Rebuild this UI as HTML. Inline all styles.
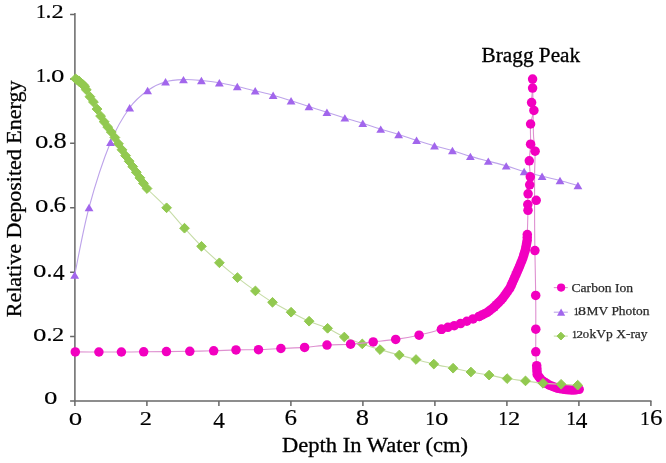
<!DOCTYPE html>
<html><head><meta charset="utf-8"><style>
html,body{margin:0;padding:0;background:#fff;}
svg{display:block;will-change:transform;}
</style></head><body>
<svg width="666" height="463" viewBox="0 0 666 463">
<rect width="666" height="463" fill="#fff"/>
<path d="M74.90,13.0 V401.0 H651.50" fill="none" stroke="#686868" stroke-width="1.5"/>
<path d="M70.10,401.00 H74.9 M70.10,336.58 H74.9 M70.10,272.16 H74.9 M70.10,207.74 H74.9 M70.10,143.32 H74.9 M70.10,78.90 H74.9 M70.10,14.48 H74.9 M74.90,401.0 V406.0 M146.90,401.0 V406.0 M218.90,401.0 V406.0 M290.90,401.0 V406.0 M362.90,401.0 V406.0 M434.90,401.0 V406.0 M506.90,401.0 V406.0 M578.90,401.0 V406.0 M650.90,401.0 V406.0" fill="none" stroke="#686868" stroke-width="1.5"/>
<path d="M532.60,79.10 C532.70,85.92 533.03,110.35 533.20,120.00 C533.37,129.65 533.28,131.80 533.60,137.00 C533.92,142.20 534.93,144.87 535.10,151.20 C535.27,157.53 534.68,163.53 534.60,175.00 C534.52,186.47 534.55,207.40 534.60,220.00 C534.65,232.60 534.72,238.03 534.90,250.60 C535.08,263.17 535.55,282.30 535.70,295.40 C535.85,308.50 535.78,319.80 535.80,329.20 C535.82,338.60 535.65,345.72 535.80,351.80 C535.95,357.88 536.47,361.92 536.70,365.70 C536.93,369.48 536.38,372.05 537.20,374.50 C538.02,376.95 539.57,378.62 541.60,380.40 C543.63,382.18 546.80,383.90 549.40,385.20 C552.00,386.50 554.43,387.47 557.20,388.20 C559.97,388.93 563.23,389.28 566.00,389.60 C568.77,389.92 571.60,390.15 573.80,390.10 C576.00,390.05 578.30,389.43 579.20,389.30" fill="none" stroke="#de90d0" stroke-width="1.1"/>
<g><circle cx="536.70" cy="365.70" r="4.75" fill="#f200c0"/><circle cx="536.87" cy="368.63" r="4.75" fill="#f200c0"/><circle cx="537.03" cy="371.57" r="4.75" fill="#f200c0"/><circle cx="537.20" cy="374.50" r="4.75" fill="#f200c0"/><circle cx="538.67" cy="376.47" r="4.75" fill="#f200c0"/><circle cx="540.13" cy="378.43" r="4.75" fill="#f200c0"/><circle cx="541.60" cy="380.40" r="4.75" fill="#f200c0"/><circle cx="543.55" cy="381.60" r="4.75" fill="#f200c0"/><circle cx="545.50" cy="382.80" r="4.75" fill="#f200c0"/><circle cx="547.45" cy="384.00" r="4.75" fill="#f200c0"/><circle cx="549.40" cy="385.20" r="4.75" fill="#f200c0"/><circle cx="552.00" cy="386.20" r="4.75" fill="#f200c0"/><circle cx="554.60" cy="387.20" r="4.75" fill="#f200c0"/><circle cx="557.20" cy="388.20" r="4.75" fill="#f200c0"/><circle cx="560.13" cy="388.67" r="4.75" fill="#f200c0"/><circle cx="563.07" cy="389.13" r="4.75" fill="#f200c0"/><circle cx="566.00" cy="389.60" r="4.75" fill="#f200c0"/><circle cx="568.60" cy="389.77" r="4.75" fill="#f200c0"/><circle cx="571.20" cy="389.93" r="4.75" fill="#f200c0"/><circle cx="573.80" cy="390.10" r="4.75" fill="#f200c0"/><circle cx="576.50" cy="389.70" r="4.75" fill="#f200c0"/><circle cx="579.20" cy="389.30" r="4.75" fill="#f200c0"/></g>
<path d="M74.70,275.00 C77.09,263.75 83.08,229.62 89.05,207.50 C95.02,185.38 103.73,158.93 110.50,142.30 C117.27,125.67 123.50,116.33 129.69,107.70 C135.88,99.07 141.64,94.82 147.62,90.50 C153.60,86.18 159.57,83.62 165.55,81.80 C171.53,79.98 177.50,79.82 183.48,79.60 C189.46,79.38 195.43,79.98 201.41,80.50 C207.39,81.02 213.36,81.70 219.34,82.70 C225.32,83.70 231.29,85.15 237.27,86.50 C243.25,87.85 249.22,89.35 255.20,90.80 C261.18,92.25 267.15,93.53 273.13,95.20 C279.11,96.87 285.08,98.92 291.06,100.80 C297.04,102.68 303.01,104.58 308.99,106.50 C314.97,108.42 320.94,110.40 326.92,112.30 C332.90,114.20 338.87,116.07 344.85,117.90 C350.83,119.73 356.80,121.43 362.78,123.30 C368.76,125.17 374.73,127.23 380.71,129.10 C386.69,130.97 392.66,132.63 398.64,134.50 C404.62,136.37 410.59,138.42 416.57,140.30 C422.55,142.18 428.52,144.10 434.50,145.80 C440.48,147.50 446.45,148.73 452.43,150.50 C458.41,152.27 464.38,154.63 470.36,156.40 C476.34,158.17 482.31,159.52 488.29,161.10 C494.27,162.68 500.24,164.17 506.22,165.90 C512.20,167.63 518.17,169.77 524.15,171.50 C530.13,173.23 536.10,174.80 542.08,176.30 C548.06,177.80 554.03,178.97 560.01,180.50 C565.99,182.03 574.95,184.67 577.94,185.50" fill="none" stroke="#bda3ea" stroke-width="1.1"/>
<path d="M75.60,78.80 C76.33,79.33 78.50,80.77 80.00,82.00 C81.50,83.23 83.08,83.95 84.60,86.20 C86.12,88.45 87.60,92.83 89.10,95.50 C90.60,98.17 92.30,99.98 93.60,102.20 C94.90,104.42 95.80,106.60 96.90,108.80 C98.00,111.00 98.68,112.75 100.20,115.40 C101.72,118.05 103.82,121.47 106.00,124.70 C108.18,127.93 111.03,131.28 113.30,134.80 C115.57,138.32 117.35,141.98 119.60,145.80 C121.85,149.62 124.38,153.88 126.80,157.70 C129.22,161.52 131.63,164.88 134.10,168.70 C136.57,172.52 139.45,177.30 141.60,180.60 C143.75,183.90 142.83,183.97 147.00,188.50 C151.17,193.03 160.35,201.18 166.60,207.80 C172.85,214.42 178.68,221.78 184.50,228.20 C190.32,234.62 195.68,240.53 201.50,246.30 C207.32,252.07 213.42,257.58 219.40,262.80 C225.38,268.02 231.40,272.92 237.40,277.60 C243.40,282.28 249.55,286.78 255.40,290.90 C261.25,295.02 266.55,298.75 272.50,302.30 C278.45,305.85 285.00,309.05 291.10,312.20 C297.20,315.35 303.02,318.52 309.10,321.20 C315.18,323.88 321.73,325.67 327.60,328.30 C333.47,330.93 338.52,334.40 344.30,337.00 C350.08,339.60 356.35,341.80 362.30,343.90 C368.25,346.00 373.83,347.75 380.00,349.60 C386.17,351.45 393.30,353.35 399.30,355.00 C405.30,356.65 410.25,357.98 416.00,359.50 C421.75,361.02 427.62,362.65 433.80,364.10 C439.98,365.55 446.92,366.88 453.10,368.20 C459.28,369.52 464.90,370.85 470.90,372.00 C476.90,373.15 483.07,374.00 489.10,375.10 C495.13,376.20 501.03,377.63 507.10,378.60 C513.17,379.57 519.52,380.12 525.50,380.90 C531.48,381.68 537.07,382.73 543.00,383.30 C548.93,383.87 555.32,383.98 561.10,384.30 C566.88,384.62 574.93,385.05 577.70,385.20" fill="none" stroke="#c6dca6" stroke-width="1.1"/>
<g fill="#92c950" stroke="#92c950" stroke-width="1" stroke-linejoin="round"><path d="M75.60,73.90 L80.50,78.80 L75.60,83.70 L70.70,78.80Z"/><path d="M77.40,75.21 L82.30,80.11 L77.40,85.01 L72.50,80.11Z"/><path d="M79.17,76.50 L84.07,81.40 L79.17,86.30 L74.27,81.40Z"/><path d="M79.20,76.52 L84.10,81.42 L79.20,86.32 L74.30,81.42Z"/><path d="M81.00,78.01 L85.90,82.91 L81.00,87.81 L76.10,82.91Z"/><path d="M82.74,79.60 L87.64,84.50 L82.74,89.40 L77.84,84.50Z"/><path d="M82.80,79.66 L87.70,84.56 L82.80,89.46 L77.90,84.56Z"/><path d="M84.60,81.30 L89.50,86.20 L84.60,91.10 L79.70,86.20Z"/><path d="M86.31,84.83 L91.21,89.73 L86.31,94.63 L81.41,89.73Z"/><path d="M89.88,91.76 L94.78,96.66 L89.88,101.56 L84.98,96.66Z"/><path d="M93.45,97.08 L98.35,101.98 L93.45,106.88 L88.55,101.98Z"/><path d="M97.02,104.14 L101.92,109.04 L97.02,113.94 L92.12,109.04Z"/><path d="M100.59,111.13 L105.49,116.03 L100.59,120.93 L95.69,116.03Z"/><path d="M104.16,116.85 L109.06,121.75 L104.16,126.65 L99.26,121.75Z"/><path d="M107.73,122.19 L112.63,127.09 L107.73,131.99 L102.83,127.09Z"/><path d="M111.30,127.13 L116.20,132.03 L111.30,136.93 L106.40,132.03Z"/><path d="M114.87,132.64 L119.77,137.54 L114.87,142.44 L109.97,137.54Z"/><path d="M118.44,138.87 L123.34,143.77 L118.44,148.67 L113.54,143.77Z"/><path d="M122.01,144.88 L126.91,149.78 L122.01,154.68 L117.11,149.78Z"/><path d="M125.58,150.78 L130.48,155.68 L125.58,160.58 L120.68,155.68Z"/><path d="M129.15,156.34 L134.05,161.24 L129.15,166.14 L124.25,161.24Z"/><path d="M132.72,161.72 L137.62,166.62 L132.72,171.52 L127.82,166.62Z"/><path d="M136.29,167.27 L141.19,172.17 L136.29,177.07 L131.39,172.17Z"/><path d="M139.86,172.94 L144.76,177.84 L139.86,182.74 L134.96,177.84Z"/><path d="M143.43,178.38 L148.33,183.28 L143.43,188.18 L138.53,183.28Z"/><path d="M147.00,183.60 L151.90,188.50 L147.00,193.40 L142.10,188.50Z"/><path d="M166.60,202.95 L171.45,207.80 L166.60,212.65 L161.75,207.80Z"/><path d="M184.50,223.35 L189.35,228.20 L184.50,233.05 L179.65,228.20Z"/><path d="M201.50,241.45 L206.35,246.30 L201.50,251.15 L196.65,246.30Z"/><path d="M219.40,257.95 L224.25,262.80 L219.40,267.65 L214.55,262.80Z"/><path d="M237.40,272.75 L242.25,277.60 L237.40,282.45 L232.55,277.60Z"/><path d="M255.40,286.05 L260.25,290.90 L255.40,295.75 L250.55,290.90Z"/><path d="M272.50,297.45 L277.35,302.30 L272.50,307.15 L267.65,302.30Z"/><path d="M291.10,307.35 L295.95,312.20 L291.10,317.05 L286.25,312.20Z"/><path d="M309.10,316.35 L313.95,321.20 L309.10,326.05 L304.25,321.20Z"/><path d="M327.60,323.45 L332.45,328.30 L327.60,333.15 L322.75,328.30Z"/><path d="M344.30,332.15 L349.15,337.00 L344.30,341.85 L339.45,337.00Z"/><path d="M362.30,339.05 L367.15,343.90 L362.30,348.75 L357.45,343.90Z"/><path d="M380.00,344.75 L384.85,349.60 L380.00,354.45 L375.15,349.60Z"/><path d="M399.30,350.15 L404.15,355.00 L399.30,359.85 L394.45,355.00Z"/><path d="M416.00,354.65 L420.85,359.50 L416.00,364.35 L411.15,359.50Z"/><path d="M433.80,359.25 L438.65,364.10 L433.80,368.95 L428.95,364.10Z"/><path d="M453.10,363.35 L457.95,368.20 L453.10,373.05 L448.25,368.20Z"/><path d="M470.90,367.15 L475.75,372.00 L470.90,376.85 L466.05,372.00Z"/><path d="M489.10,370.25 L493.95,375.10 L489.10,379.95 L484.25,375.10Z"/><path d="M507.10,373.75 L511.95,378.60 L507.10,383.45 L502.25,378.60Z"/><path d="M525.50,376.05 L530.35,380.90 L525.50,385.75 L520.65,380.90Z"/><path d="M543.00,378.45 L547.85,383.30 L543.00,388.15 L538.15,383.30Z"/><path d="M561.10,379.45 L565.95,384.30 L561.10,389.15 L556.25,384.30Z"/><path d="M577.70,380.35 L582.55,385.20 L577.70,390.05 L572.85,385.20Z"/></g>
<g><path d="M74.70,271.30 L79.10,278.70 L70.30,278.70Z" fill="#a266ec"/><path d="M89.05,203.80 L93.45,211.20 L84.65,211.20Z" fill="#a266ec"/><path d="M110.50,138.60 L114.90,146.00 L106.10,146.00Z" fill="#a266ec"/><path d="M129.69,104.00 L134.09,111.40 L125.29,111.40Z" fill="#a266ec"/><path d="M147.62,86.80 L152.02,94.20 L143.22,94.20Z" fill="#a266ec"/><path d="M165.55,78.10 L169.95,85.50 L161.15,85.50Z" fill="#a266ec"/><path d="M183.48,75.90 L187.88,83.30 L179.08,83.30Z" fill="#a266ec"/><path d="M201.41,76.80 L205.81,84.20 L197.01,84.20Z" fill="#a266ec"/><path d="M219.34,79.00 L223.74,86.40 L214.94,86.40Z" fill="#a266ec"/><path d="M237.27,82.80 L241.67,90.20 L232.87,90.20Z" fill="#a266ec"/><path d="M255.20,87.10 L259.60,94.50 L250.80,94.50Z" fill="#a266ec"/><path d="M273.13,91.50 L277.53,98.90 L268.73,98.90Z" fill="#a266ec"/><path d="M291.06,97.10 L295.46,104.50 L286.66,104.50Z" fill="#a266ec"/><path d="M308.99,102.80 L313.39,110.20 L304.59,110.20Z" fill="#a266ec"/><path d="M326.92,108.60 L331.32,116.00 L322.52,116.00Z" fill="#a266ec"/><path d="M344.85,114.20 L349.25,121.60 L340.45,121.60Z" fill="#a266ec"/><path d="M362.78,119.60 L367.18,127.00 L358.38,127.00Z" fill="#a266ec"/><path d="M380.71,125.40 L385.11,132.80 L376.31,132.80Z" fill="#a266ec"/><path d="M398.64,130.80 L403.04,138.20 L394.24,138.20Z" fill="#a266ec"/><path d="M416.57,136.60 L420.97,144.00 L412.17,144.00Z" fill="#a266ec"/><path d="M434.50,142.10 L438.90,149.50 L430.10,149.50Z" fill="#a266ec"/><path d="M452.43,146.80 L456.83,154.20 L448.03,154.20Z" fill="#a266ec"/><path d="M470.36,152.70 L474.76,160.10 L465.96,160.10Z" fill="#a266ec"/><path d="M488.29,157.40 L492.69,164.80 L483.89,164.80Z" fill="#a266ec"/><path d="M506.22,162.20 L510.62,169.60 L501.82,169.60Z" fill="#a266ec"/><path d="M524.15,167.80 L528.55,175.20 L519.75,175.20Z" fill="#a266ec"/><path d="M542.08,172.60 L546.48,180.00 L537.68,180.00Z" fill="#a266ec"/><path d="M560.01,176.80 L564.41,184.20 L555.61,184.20Z" fill="#a266ec"/><path d="M577.94,181.80 L582.34,189.20 L573.54,189.20Z" fill="#a266ec"/></g>
<path d="M75.30,351.90 C79.23,351.92 91.22,351.98 98.90,352.00 C106.58,352.02 113.93,352.03 121.40,352.00 C128.87,351.97 136.20,351.87 143.70,351.80 C151.20,351.73 158.72,351.68 166.40,351.60 C174.08,351.52 181.92,351.43 189.80,351.30 C197.68,351.17 206.00,351.03 213.70,350.80 C221.40,350.57 228.53,350.08 236.00,349.90 C243.47,349.72 251.02,349.93 258.50,349.70 C265.98,349.47 273.22,348.88 280.90,348.50 C288.58,348.12 296.92,347.97 304.60,347.40 C312.28,346.83 319.33,345.63 327.00,345.10 C334.67,344.57 342.90,344.73 350.60,344.20 C358.30,343.67 365.68,342.70 373.20,341.90 C380.72,341.10 388.05,340.52 395.70,339.40 C403.35,338.28 411.47,336.88 419.10,335.20 C426.73,333.52 436.67,330.62 441.50,329.30 C446.33,327.98 445.70,327.98 448.10,327.30 C450.50,326.62 453.30,326.02 455.90,325.20 C458.50,324.38 461.10,323.35 463.70,322.40 C466.30,321.45 468.92,320.50 471.50,319.50 C474.08,318.50 476.62,317.55 479.20,316.40 C481.78,315.25 484.65,314.03 487.00,312.60 C489.35,311.17 490.82,310.00 493.30,307.80 C495.78,305.60 499.08,302.75 501.90,299.40 C504.72,296.05 508.03,291.43 510.20,287.70 C512.37,283.97 513.43,280.33 514.90,277.00 C516.37,273.67 517.70,270.78 519.00,267.70 C520.30,264.62 521.62,261.55 522.70,258.50 C523.78,255.45 524.75,252.42 525.50,249.40 C526.25,246.38 526.90,242.88 527.20,240.40 C527.50,237.92 527.17,239.52 527.30,234.50 C527.43,229.48 527.92,215.30 528.00,210.30 C528.08,205.30 527.78,207.25 527.80,204.50 C527.82,201.75 527.78,197.08 528.10,193.80 C528.42,190.52 529.33,187.63 529.70,184.80 C530.07,181.97 530.37,180.80 530.30,176.80 C530.23,172.80 529.25,166.23 529.30,160.80 C529.35,155.37 530.38,150.33 530.60,144.20 C530.82,138.07 530.05,129.63 530.60,124.00 C531.15,118.37 533.73,113.97 533.90,110.40 C534.07,106.83 531.82,106.32 531.60,102.60 C531.38,98.88 532.43,92.02 532.60,88.10 C532.77,84.18 532.60,80.60 532.60,79.10" fill="none" stroke="#de90d0" stroke-width="1.1"/>
<g><circle cx="75.30" cy="351.90" r="4.75" fill="#f200c0"/><circle cx="98.90" cy="352.00" r="4.75" fill="#f200c0"/><circle cx="121.40" cy="352.00" r="4.75" fill="#f200c0"/><circle cx="143.70" cy="351.80" r="4.75" fill="#f200c0"/><circle cx="166.40" cy="351.60" r="4.75" fill="#f200c0"/><circle cx="189.80" cy="351.30" r="4.75" fill="#f200c0"/><circle cx="213.70" cy="350.80" r="4.75" fill="#f200c0"/><circle cx="236.00" cy="349.90" r="4.75" fill="#f200c0"/><circle cx="258.50" cy="349.70" r="4.75" fill="#f200c0"/><circle cx="280.90" cy="348.50" r="4.75" fill="#f200c0"/><circle cx="304.60" cy="347.40" r="4.75" fill="#f200c0"/><circle cx="327.00" cy="345.10" r="4.75" fill="#f200c0"/><circle cx="350.60" cy="344.20" r="4.75" fill="#f200c0"/><circle cx="373.20" cy="341.90" r="4.75" fill="#f200c0"/><circle cx="395.70" cy="339.40" r="4.75" fill="#f200c0"/><circle cx="419.10" cy="335.20" r="4.75" fill="#f200c0"/><circle cx="441.50" cy="329.30" r="4.75" fill="#f200c0"/><circle cx="441.50" cy="329.30" r="4.75" fill="#f200c0"/><circle cx="447.86" cy="327.37" r="4.75" fill="#f200c0"/><circle cx="454.28" cy="325.64" r="4.75" fill="#f200c0"/><circle cx="460.58" cy="323.52" r="4.75" fill="#f200c0"/><circle cx="466.82" cy="321.24" r="4.75" fill="#f200c0"/><circle cx="473.03" cy="318.88" r="4.75" fill="#f200c0"/><circle cx="479.20" cy="316.40" r="4.75" fill="#f200c0"/><circle cx="479.20" cy="316.40" r="4.75" fill="#f200c0"/><circle cx="481.91" cy="315.08" r="4.75" fill="#f200c0"/><circle cx="484.61" cy="313.76" r="4.75" fill="#f200c0"/><circle cx="487.28" cy="312.39" r="4.75" fill="#f200c0"/><circle cx="489.67" cy="310.56" r="4.75" fill="#f200c0"/><circle cx="492.07" cy="308.74" r="4.75" fill="#f200c0"/><circle cx="494.34" cy="306.78" r="4.75" fill="#f200c0"/><circle cx="496.50" cy="304.68" r="4.75" fill="#f200c0"/><circle cx="498.65" cy="302.57" r="4.75" fill="#f200c0"/><circle cx="500.80" cy="300.47" r="4.75" fill="#f200c0"/><circle cx="502.75" cy="298.20" r="4.75" fill="#f200c0"/><circle cx="504.50" cy="295.74" r="4.75" fill="#f200c0"/><circle cx="506.24" cy="293.29" r="4.75" fill="#f200c0"/><circle cx="507.98" cy="290.83" r="4.75" fill="#f200c0"/><circle cx="509.72" cy="288.38" r="4.75" fill="#f200c0"/><circle cx="511.08" cy="285.71" r="4.75" fill="#f200c0"/><circle cx="512.29" cy="282.95" r="4.75" fill="#f200c0"/><circle cx="513.50" cy="280.20" r="4.75" fill="#f200c0"/><circle cx="514.71" cy="277.44" r="4.75" fill="#f200c0"/><circle cx="515.92" cy="274.69" r="4.75" fill="#f200c0"/><circle cx="517.13" cy="271.93" r="4.75" fill="#f200c0"/><circle cx="518.35" cy="269.18" r="4.75" fill="#f200c0"/><circle cx="519.52" cy="266.41" r="4.75" fill="#f200c0"/><circle cx="520.64" cy="263.62" r="4.75" fill="#f200c0"/><circle cx="521.77" cy="260.82" r="4.75" fill="#f200c0"/><circle cx="522.85" cy="258.02" r="4.75" fill="#f200c0"/><circle cx="523.73" cy="255.14" r="4.75" fill="#f200c0"/><circle cx="524.62" cy="252.26" r="4.75" fill="#f200c0"/><circle cx="525.50" cy="249.39" r="4.75" fill="#f200c0"/><circle cx="526.06" cy="246.43" r="4.75" fill="#f200c0"/><circle cx="526.62" cy="243.47" r="4.75" fill="#f200c0"/><circle cx="527.18" cy="240.52" r="4.75" fill="#f200c0"/><circle cx="527.25" cy="237.51" r="4.75" fill="#f200c0"/><circle cx="527.30" cy="234.50" r="4.75" fill="#f200c0"/><circle cx="528.00" cy="210.30" r="4.75" fill="#f200c0"/><circle cx="527.80" cy="204.50" r="4.75" fill="#f200c0"/><circle cx="528.10" cy="193.80" r="4.75" fill="#f200c0"/><circle cx="529.70" cy="184.80" r="4.75" fill="#f200c0"/><circle cx="530.30" cy="176.80" r="4.75" fill="#f200c0"/><circle cx="529.30" cy="160.80" r="4.75" fill="#f200c0"/><circle cx="530.60" cy="144.20" r="4.75" fill="#f200c0"/><circle cx="530.60" cy="124.00" r="4.75" fill="#f200c0"/><circle cx="533.90" cy="110.40" r="4.75" fill="#f200c0"/><circle cx="531.60" cy="102.60" r="4.75" fill="#f200c0"/><circle cx="532.60" cy="88.10" r="4.75" fill="#f200c0"/><circle cx="532.60" cy="79.10" r="4.75" fill="#f200c0"/><circle cx="535.10" cy="151.20" r="4.75" fill="#f200c0"/><circle cx="536.20" cy="200.30" r="4.75" fill="#f200c0"/><circle cx="534.90" cy="250.60" r="4.75" fill="#f200c0"/><circle cx="535.70" cy="295.40" r="4.75" fill="#f200c0"/><circle cx="535.80" cy="329.20" r="4.75" fill="#f200c0"/><circle cx="535.80" cy="351.80" r="4.75" fill="#f200c0"/></g>
<g font-family="Liberation Serif" fill="#000" stroke="#000" stroke-width="0.15"><text transform="translate(36.05,17.60) scale(1.111,1)" font-size="17.9">1</text><text transform="translate(45.43,17.60) scale(0.989,1)" font-size="24.0">.</text><text transform="translate(51.62,17.60) scale(1.343,1)" font-size="18.2">2</text><text transform="translate(36.05,81.60) scale(1.111,1)" font-size="17.9">1</text><text transform="translate(45.43,81.60) scale(0.989,1)" font-size="24.0">.</text><text transform="translate(50.98,81.60) scale(1.042,1)" font-size="25.8">o</text><text transform="translate(34.88,147.60) scale(1.042,1)" font-size="25.8">o</text><text transform="translate(47.83,147.60) scale(0.989,1)" font-size="24.0">.</text><text transform="translate(53.40,147.60) scale(1.105,1)" font-size="23.9">8</text><text transform="translate(35.08,212.00) scale(1.042,1)" font-size="25.8">o</text><text transform="translate(48.73,212.00) scale(0.989,1)" font-size="24.0">.</text><text transform="translate(53.62,212.00) scale(1.048,1)" font-size="23.9">6</text><text transform="translate(33.08,276.60) scale(1.042,1)" font-size="25.8">o</text><text transform="translate(46.43,276.60) scale(0.989,1)" font-size="24.0">.</text><text transform="translate(52.93,279.90) scale(0.986,1)" font-size="23.6">4</text><text transform="translate(33.08,341.20) scale(1.042,1)" font-size="25.8">o</text><text transform="translate(46.43,341.20) scale(0.989,1)" font-size="24.0">.</text><text transform="translate(52.12,341.20) scale(1.343,1)" font-size="18.2">2</text><text transform="translate(43.88,403.90) scale(1.042,1)" font-size="25.8">o</text><text transform="translate(68.68,424.70) scale(1.042,1)" font-size="25.8">o</text><text transform="translate(139.82,424.70) scale(1.343,1)" font-size="18.2">2</text><text transform="translate(213.23,428.00) scale(0.986,1)" font-size="23.6">4</text><text transform="translate(284.42,424.70) scale(1.048,1)" font-size="23.9">6</text><text transform="translate(355.80,424.70) scale(1.105,1)" font-size="23.9">8</text><text transform="translate(425.15,424.70) scale(1.111,1)" font-size="17.9">1</text><text transform="translate(434.98,424.70) scale(1.042,1)" font-size="25.8">o</text><text transform="translate(498.15,424.70) scale(1.111,1)" font-size="17.9">1</text><text transform="translate(507.92,424.70) scale(1.343,1)" font-size="18.2">2</text><text transform="translate(566.15,424.70) scale(1.111,1)" font-size="17.9">1</text><text transform="translate(575.73,428.00) scale(0.986,1)" font-size="23.6">4</text><text transform="translate(639.95,424.70) scale(1.111,1)" font-size="17.9">1</text><text transform="translate(649.92,424.70) scale(1.048,1)" font-size="23.9">6</text></g>
<text x="282.0" y="452.0" font-size="20.5" textLength="186.1" font-family="Liberation Serif" lengthAdjust="spacingAndGlyphs" stroke="#000" stroke-width="0.3" fill="#000">Depth In Water (cm)</text>
<text transform="translate(20.7,317.2) rotate(-90)" x="0" y="0" font-size="20.5" textLength="236.6" font-family="Liberation Serif" lengthAdjust="spacingAndGlyphs" stroke="#000" stroke-width="0.3" fill="#000">Relative Deposited Energy</text>
<text x="481.6" y="61.8" font-size="20.5" textLength="98.6" font-family="Liberation Serif" lengthAdjust="spacingAndGlyphs" stroke="#000" stroke-width="0.3" fill="#000">Bragg Peak</text>
<g><path d="M553.8,287.6 H567.8" stroke="#de90d0" stroke-width="1.1"/><circle cx="561.10" cy="287.60" r="4.1" fill="#f200c0"/><path d="M553.8,312.2 H567.8" stroke="#bda3ea" stroke-width="1.1"/><path d="M561.10,308.60 L565.20,315.80 L557.00,315.80Z" fill="#a266ec"/><path d="M553.8,336.1 H567.8" stroke="#c6dca6" stroke-width="1.1"/><g fill="#92c950" stroke="#92c950" stroke-width="1" stroke-linejoin="round"><path d="M560.90,332.20 L564.80,336.10 L560.90,340.00 L557.00,336.10Z"/></g></g>
<g font-family="Liberation Serif" font-size="12.8" fill="#2b2b2b" stroke="#2b2b2b" stroke-width="0.25"><text x="571.5" y="291.6" textLength="61.6" lengthAdjust="spacingAndGlyphs">Carbon Ion</text><text x="586.6" y="314.5" textLength="62.9" lengthAdjust="spacingAndGlyphs">MV Photon</text><text x="589.6" y="337.8" textLength="58.0" lengthAdjust="spacingAndGlyphs">kVp X-ray</text><text transform="translate(573.70,314.50) scale(1.044,1)" font-size="9.8">1</text><text transform="translate(577.99,314.50) scale(1.253,1)" font-size="12.8">8</text><text transform="translate(571.90,337.80) scale(1.044,1)" font-size="9.8">1</text><text transform="translate(576.43,337.80) scale(1.323,1)" font-size="9.8">2</text><text transform="translate(582.72,337.80) scale(1.027,1)" font-size="12.4">o</text></g>
</svg>
</body></html>
